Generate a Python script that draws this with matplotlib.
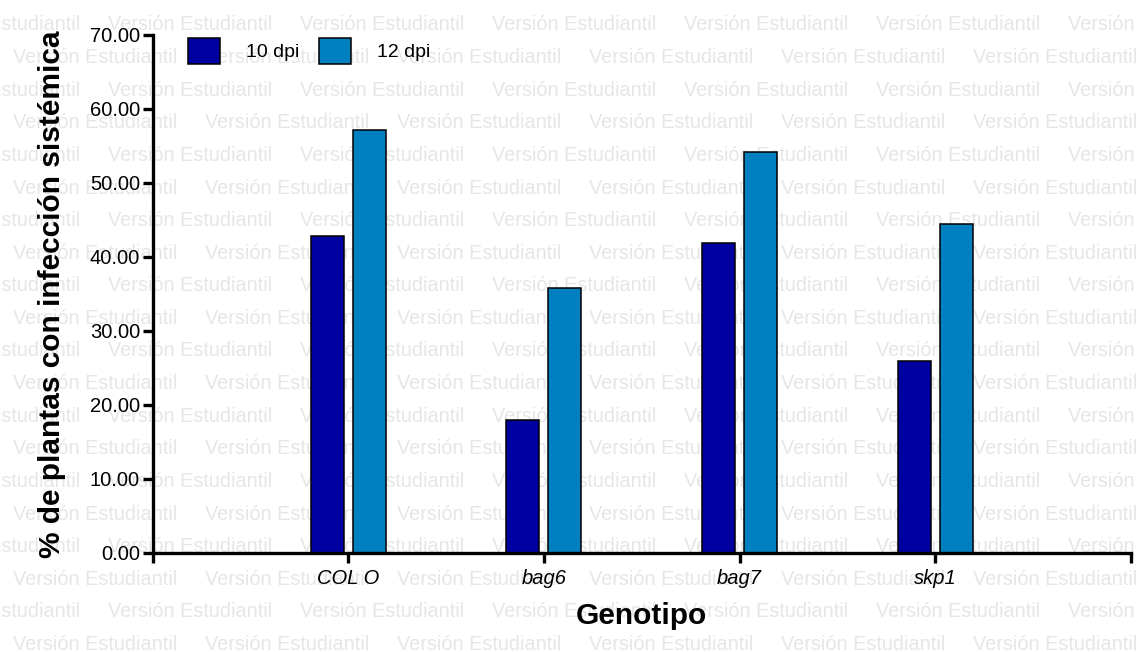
import numpy as np
import matplotlib
matplotlib.use("Agg")
import matplotlib.pyplot as plt

genotipos = ["COL O", "bag6", "bag7", "skp1"]
dpi10 = [42.8, 17.9, 41.8, 25.9]
dpi12 = [57.1, 35.8, 54.2, 44.4]
y_ticks = [0, 10, 20, 30, 40, 50, 60, 70]

plt.rcParams["font.family"] = ["Liberation Sans", "DejaVu Sans"]

W, H = 1138, 652
fig = plt.figure(figsize=(W / 100, H / 100), dpi=100)
fig.patch.set_facecolor("white")

# watermark of the student version, behind everything
for k in range(20):
    base_y = 30.5 + 32.6 * k
    x0 = -84 if k % 2 == 0 else 13
    for n in range(7):
        fig.text(x0 + 192 * n, H - base_y, "Versión Estudiantil", transform=None,
                 fontsize=14.3, color="#e6e6e6",
                 ha="left", va="baseline", zorder=-5)

ax = fig.add_axes([152.5 / W, 1 - 552.5 / H, (1131 - 152.5) / W, (552.5 - 35) / H])
ax.patch.set_visible(False)

x = np.arange(1, len(genotipos) + 1)
bw = 0.169
off = 0.107
ax.bar(x - off, dpi10, bw, color="#0000a0", edgecolor="black", linewidth=1.1, label="10 dpi", zorder=2)
ax.bar(x + off, dpi12, bw, color="#0080c0", edgecolor="black", linewidth=1.1, label="12 dpi", zorder=2)

ax.set_xlim(0, 5)
ax.set_ylim(0, 70)
ax.set_xticks([0] + list(x) + [5])
ax.set_xticklabels([""] + genotipos + [""], fontstyle="italic", fontsize=14.5)
ax.set_yticks(y_ticks)
ax.set_yticklabels([f"{v:.2f}" for v in y_ticks], fontsize=14.5)

for side in ["top", "right"]:
    ax.spines[side].set_visible(False)
for side in ["left", "bottom"]:
    ax.spines[side].set_linewidth(2.4)
    ax.spines[side].set_zorder(3)
ax.tick_params(axis="both", direction="out", length=7, width=2.4, pad=2, colors="black")
ax.tick_params(axis="x", pad=5)

ax.set_ylabel("% de plantas con infección sistémica", fontsize=21.5, fontweight="bold", labelpad=17)
ax.set_xlabel("Genotipo", fontsize=21.5, fontweight="bold", labelpad=10)

ax.legend(loc="upper left", bbox_to_anchor=(188 / W, 1 - 38 / H), bbox_transform=fig.transFigure,
          ncol=2, frameon=False, fontsize=14, handlelength=1.65, handleheight=1.65,
          handletextpad=1.35, columnspacing=1.0, borderpad=0, borderaxespad=0)

fig.savefig("out.png", dpi=100, facecolor="white")
